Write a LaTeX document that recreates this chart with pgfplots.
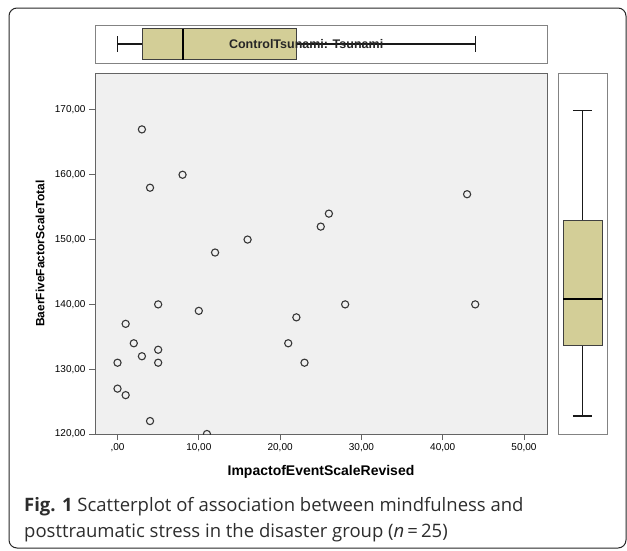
\documentclass[border=0pt]{standalone}
\usepackage{pgfplots}
\pgfplotsset{compat=1.18}
\usepgfplotslibrary{statistics}
\usepackage{fontspec}
\setmainfont{Liberation Sans}
\newfontfamily\capfont{Open Sans}

\definecolor{BoxKhaki}{RGB}{211,206,151}
\definecolor{PanelBg}{RGB}{240,240,240}
\definecolor{FrameGray}{RGB}{100,100,100}
\definecolor{MarkGray}{RGB}{55,55,55}
\definecolor{CapText}{RGB}{45,45,45}

\pgfplotsset{
  spsspanel/.style={
    scale only axis,
    axis line style={FrameGray, line width=1pt},
    tick style={FrameGray, line width=0.9pt},
  },
  spssbox/.style={
    boxplot/every box/.style={fill=BoxKhaki, draw=black!75, line width=0.8pt},
    boxplot/every whisker/.style={black!90, line width=1.3pt},
    boxplot/every median/.style={black, line width=2pt},
  },
}

\begin{document}
\begin{tikzpicture}
\useasboundingbox (0pt,0pt) rectangle (627pt,-550pt);
\draw[black!85, line width=1pt, rounded corners=8pt] (9pt,-8pt) rectangle (626pt,-548pt);

% main scatter
\begin{axis}[
  spsspanel,
  at={(95pt,-434pt)}, anchor=south west,
  width=452pt, height=361pt,
  xmin=-2.77, xmax=52.83,
  ymin=120, ymax=175.7,
  axis background/.style={fill=PanelBg},
  xtick={0,10,20,30,40,50},
  xticklabels={{,00},{10,00},{20,00},{30,00},{40,00},{50,00}},
  ytick={120,130,140,150,160,170},
  yticklabels={{120,00},{130,00},{140,00},{150,00},{160,00},{170,00}},
  tick pos=left,
  tick align=outside,
  major tick length=6pt,
  ticklabel style={font=\fontsize{10}{12}\selectfont},
  xlabel={ImpactofEventScaleRevised},
  ylabel={BaerFiveFactorScaleTotal},
  x label style={at={(axis description cs:0.5,0)}, anchor=base, yshift=-41pt,
    font=\bfseries\fontsize{14}{16}\selectfont},
  y label style={at={(axis description cs:-0.1217,0.5)}, anchor=center,
    font=\bfseries\fontsize{12}{14}\selectfont},
  clip marker paths=true,
]
\addplot[only marks, mark=o, mark size=3.6pt, mark options={draw=MarkGray, line width=1.1pt}]
coordinates {
  (3,167) (8,160) (4,158) (16,150) (26,154) (25,152) (43,157) (12,148)
  (5,140) (10,139) (1,137) (28,140) (44,140) (22,138) (2,134) (21,134)
  (3,132) (5,133) (0,131) (5,131) (23,131) (0,127) (1,126) (4,122) (11,120)
};
\end{axis}

% top boxplot (x variable)
\begin{axis}[
  spsspanel,
  at={(95pt,-63pt)}, anchor=south west,
  width=452pt, height=38pt,
  xmin=-2.77, xmax=52.83, ymin=0, ymax=1,
  xtick=\empty, ytick=\empty,
  axis line style={FrameGray!80},
]
\addplot[spssbox, boxplot prepared={draw direction=x, draw position=0.5,
  lower whisker=0, lower quartile=3, median=8, upper quartile=22, upper whisker=44,
  box extend=0.816, whisker extend=0.42}] coordinates {};
\node[font=\bfseries\fontsize{12.5}{14}\selectfont, text=black!85, anchor=center]
  at (axis cs:23.2,0.51) {ControlTsunami: Tsunami};
\end{axis}

% right boxplot (y variable)
\begin{axis}[
  spsspanel,
  at={(558pt,-434pt)}, anchor=south west,
  width=49pt, height=361pt,
  xmin=0, xmax=1, ymin=120, ymax=175.7,
  xtick=\empty, ytick=\empty,
  axis line style={FrameGray!80},
]
\addplot[spssbox, boxplot prepared={draw direction=y, draw position=0.5,
  lower whisker=122.8, lower quartile=133.7, median=140.8, upper quartile=152.9, upper whisker=169.9,
  box extend=0.796, whisker extend=0.39}] coordinates {};
\end{axis}

% caption
\node[anchor=base west, font=\capfont\fontsize{18.5}{20}\selectfont, text=CapText, inner sep=0pt]
  at (24pt,-511pt) {\textbf{Fig. 1} Scatterplot of association between mindfulness and};
\node[anchor=base west, font=\capfont\fontsize{18.5}{20}\selectfont, text=CapText, inner sep=0pt]
  at (24pt,-537pt) {posttraumatic stress in the disaster group (\textit{n}\,=\,25)};
\end{tikzpicture}
\end{document}
